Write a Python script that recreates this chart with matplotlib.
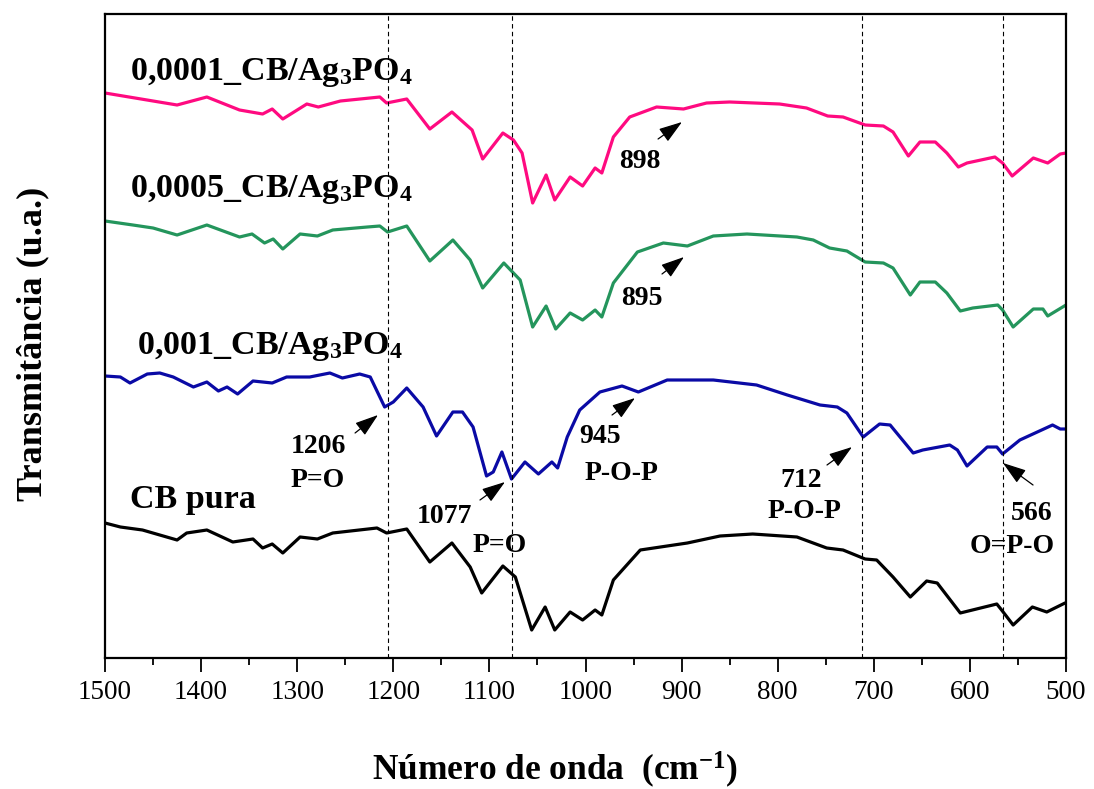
import numpy as np
import matplotlib
matplotlib.use("Agg")
import matplotlib.pyplot as plt
from matplotlib.ticker import MultipleLocator

plt.rcParams['font.family'] = ['Liberation Serif', 'DejaVu Serif']
plt.rcParams['mathtext.fontset'] = 'custom'
plt.rcParams['mathtext.bf'] = 'Liberation Serif:bold'
plt.rcParams['mathtext.rm'] = 'Liberation Serif:bold'
plt.rcParams['mathtext.default'] = 'bf'

# espectros FTIR (transmitancia em u.a., ja deslocados)
wn_0001 = [1500, 1425, 1394, 1360, 1336, 1326, 1315, 1290, 1278, 1255, 1214, 1207, 1186, 1162,
           1139, 1118, 1107, 1086, 1075, 1066, 1055, 1041, 1032, 1016, 1003, 990, 983, 971, 954,
           926, 898, 874, 850, 798, 770, 748, 732, 709, 690, 680, 664, 652, 636, 624, 612, 603,
           574, 566, 556, 534, 519, 506, 500]
t_0001 = [56.5, 55.3, 56.1, 54.8, 54.4, 54.9, 53.9, 55.4, 55.1, 55.7, 56.1, 55.5, 55.9, 52.9,
          54.6, 52.8, 49.9, 52.5, 51.8, 50.5, 45.5, 48.3, 45.8, 48.1, 47.2, 49.0, 48.5, 52.1, 54.1,
          55.1, 54.9, 55.5, 55.6, 55.4, 55.0, 54.2, 54.1, 53.3, 53.2, 52.6, 50.2, 51.6, 51.6, 50.5,
          49.1, 49.5, 50.1, 49.5, 48.2, 50.0, 49.5, 50.4, 50.5]

wn_0005 = [1500, 1471, 1450, 1425, 1394, 1360, 1347, 1334, 1325, 1315, 1297, 1279, 1263, 1227,
           1214, 1206, 1186, 1162, 1138, 1120, 1107, 1085, 1068, 1055, 1041, 1031, 1016, 1003, 990,
           983, 971, 946, 919, 894, 867, 832, 780, 763, 746, 728, 709, 690, 680, 662, 652, 636,
           624, 610, 597, 571, 566, 555, 534, 524, 519, 500]
t_0005 = [43.7, 43.3, 43.0, 42.3, 43.3, 42.1, 42.4, 41.5, 41.9, 40.9, 42.4, 42.2, 42.8, 43.1,
          43.2, 42.6, 43.2, 39.7, 41.8, 39.8, 37.0, 39.5, 37.8, 33.1, 35.2, 32.9, 34.5, 33.8, 34.8,
          34.1, 37.5, 40.6, 41.5, 41.2, 42.2, 42.4, 42.1, 41.8, 41.0, 40.7, 39.6, 39.5, 39.0, 36.3,
          37.6, 37.6, 36.5, 34.7, 35.0, 35.3, 34.8, 33.1, 34.9, 34.9, 34.2, 35.3]

wn_001 = [1500, 1484, 1474, 1456, 1443, 1429, 1408, 1394, 1382, 1373, 1362, 1346, 1326, 1311,
          1287, 1266, 1253, 1235, 1224, 1216, 1209, 1200, 1186, 1169, 1155, 1138, 1128, 1117, 1103,
          1096, 1087, 1077, 1063, 1049, 1035, 1029, 1019, 1006, 985, 962, 945, 915, 867, 822, 790,
          756, 738, 728, 711, 694, 683, 659, 649, 621, 613, 603, 582, 572, 566, 548, 514, 506, 500]
t_001 = [28.2, 28.1, 27.5, 28.4, 28.5, 28.1, 27.1, 27.6, 26.7, 27.1, 26.4, 27.7, 27.5, 28.1,
         28.1, 28.5, 28.0, 28.4, 28.1, 26.5, 25.1, 25.6, 27.0, 25.1, 22.2, 24.6, 24.6, 23.1, 18.2,
         18.6, 20.6, 17.9, 19.6, 18.4, 19.6, 19.0, 22.1, 24.8, 26.6, 27.2, 26.6, 27.8, 27.8, 27.3,
         26.3, 25.3, 25.1, 24.5, 22.1, 23.4, 23.3, 20.5, 20.8, 21.3, 20.8, 19.2, 21.1, 21.1, 20.4,
         21.8, 23.3, 22.9, 22.9]

wn_cb = [1500, 1484, 1461, 1425, 1415, 1394, 1367, 1346, 1336, 1326, 1315, 1297, 1279, 1263,
         1217, 1207, 1186, 1162, 1139, 1120, 1108, 1086, 1073, 1056, 1042, 1032, 1016, 1003, 990,
         983, 971, 943, 894, 860, 826, 780, 749, 732, 709, 697, 680, 662, 645, 634, 610, 572,
         567, 555, 535, 520, 501]
t_cb = [13.5, 13.1, 12.8, 11.8, 12.5, 12.8, 11.6, 11.9, 11.0, 11.4, 10.5, 12.1, 11.9, 12.5,
        13.0, 12.5, 12.9, 9.6, 11.5, 9.1, 6.5, 9.2, 8.1, 2.8, 5.1, 2.8, 4.6, 3.8, 4.8,
        4.3, 7.8, 10.8, 11.5, 12.2, 12.4, 12.1, 11.0, 10.8, 9.9, 9.8, 8.1, 6.1, 7.7, 7.5, 4.5, 5.4,
        4.8, 3.3, 5.1, 4.6, 5.5]

bandas = [1206, 1077, 712, 566]

fig = plt.figure(figsize=(10.94, 7.89), dpi=100)
ax = fig.add_axes([105/1094, 131/789, 961/1094, 644/789])

estilo = dict(lw=2.3, solid_joinstyle='round', solid_capstyle='round')
ax.plot(wn_0001, t_0001, color='#FF0A80', **estilo)
ax.plot(wn_0005, t_0005, color='#24955C', **estilo)
ax.plot(wn_001, t_001, color='#0A0AA5', **estilo)
ax.plot(wn_cb, t_cb, color='black', **estilo)

for b in bandas:
    ax.axvline(b, color='black', lw=0.8, ls=(0, (4, 3)))

ax.set_xlim(1500, 500)
ax.set_ylim(0, 64.4)
ax.set_yticks([])
ax.xaxis.set_major_locator(MultipleLocator(100))
ax.xaxis.set_minor_locator(MultipleLocator(50))
ax.tick_params(axis='x', which='major', direction='out', length=10, width=1.3, labelsize=19.5, pad=6)
ax.tick_params(axis='x', which='minor', direction='out', length=5, width=1.3)
for s in ax.spines.values():
    s.set_linewidth(1.6)

ax.set_xlabel(r'Número de onda  (cm$^{-1}$)', fontsize=25.5, fontweight='bold')
ax.xaxis.set_label_coords(0.468, -0.142)
ax.set_ylabel('Transmitância (u.a.)', fontsize=26, fontweight='bold')
ax.yaxis.set_label_coords(-0.058, 0.488)

# nomes das amostras
lab = dict(fontsize=24.5, fontweight='bold', ha='left', va='baseline')
ax.text(1474, 57.8, r'0,0001_CB/Ag$_3$PO$_4$', **lab)
ax.text(1474, 46.1, r'0,0005_CB/Ag$_3$PO$_4$', **lab)
ax.text(1467, 30.4, r'0,001_CB/Ag$_3$PO$_4$', **lab)
ax.text(1474, 15.0, 'CB pura', **lab)

# atribuicoes das bandas
ann = dict(fontsize=20, fontweight='bold', ha='center', va='baseline')
ax.text(943, 49.0, '898', **ann)
ax.text(941, 35.3, '895', **ann)
ax.text(1278, 20.5, '1206', **ann)
ax.text(1279, 17.1, 'P=O', **ann)
ax.text(1147, 13.5, '1077', **ann)
ax.text(1089, 10.6, 'P=O', **ann)
ax.text(985, 21.5, '945', **ann)
ax.text(963, 17.8, 'P-O-P', **ann)
ax.text(776, 17.1, '712', **ann)
ax.text(772, 14.0, 'P-O-P', **ann)
ax.text(536, 13.8, '566', **ann)
ax.text(556, 10.5, 'O=P-O', **ann)

setas = [((924.5, 51.9), (899.6, 53.6)),
         ((920.4, 38.4), (897.5, 40.1)),
         ((1239.8, 22.5), (1215.9, 24.3)),
         ((1109.8, 15.8), (1083.8, 17.6)),
         ((972.4, 24.3), (948.5, 26.0)),
         ((748.7, 19.3), (722.7, 21.1)),
         ((534.3, 17.3), (565.6, 19.5))]
for tail, head in setas:
    ax.annotate('', xy=head, xytext=tail,
                arrowprops=dict(arrowstyle='-|>,head_length=0.9,head_width=0.3',
                                color='black', lw=0.9, shrinkA=0, shrinkB=0,
                                mutation_scale=16))

fig.savefig('out.png', dpi=100)
